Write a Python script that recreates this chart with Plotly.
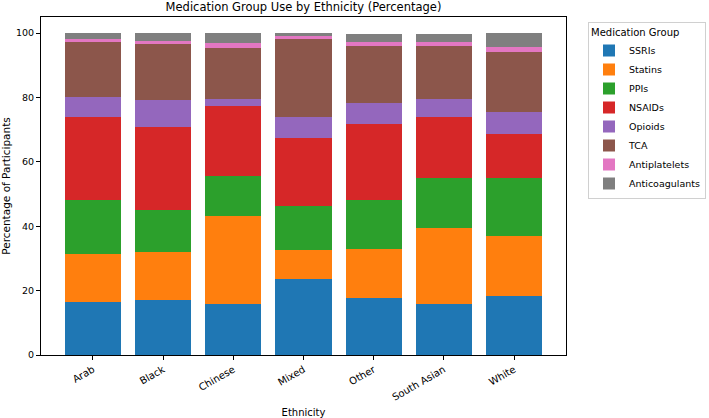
import plotly.graph_objects as go

ethnicities = ["Arab", "Black", "Chinese", "Mixed", "Other", "South Asian", "White"]
groups = ["SSRIs", "Statins", "PPIs", "NSAIDs", "Opioids", "TCA", "Antiplatelets", "Anticoagulants"]
colors = ["#1f77b4", "#ff7f0e", "#2ca02c", "#d62728", "#9467bd", "#8c564b", "#e377c2", "#7f7f7f"]

ssris = [16.5, 17.1, 15.7, 23.7, 17.8, 16.0, 18.3]
statins = [14.9, 14.8, 27.6, 8.8, 15.0, 23.4, 18.8]
ppis = [16.9, 13.1, 12.2, 13.7, 15.5, 15.7, 18.0]
nsaids = [25.7, 25.8, 22.0, 21.2, 23.4, 18.9, 13.6]
opioids = [6.3, 8.3, 2.1, 6.6, 6.5, 5.4, 6.8]
tca = [16.8, 17.5, 15.9, 24.1, 17.9, 16.5, 18.7]
antiplatelets = [1.2, 1.1, 1.4, 0.9, 1.0, 1.4, 1.5]
anticoagulants = [1.7, 2.3, 3.1, 1.0, 2.7, 2.5, 4.3]

series = [ssris, statins, ppis, nsaids, opioids, tca, antiplatelets, anticoagulants]

font = "DejaVu Sans"
fig = go.Figure()
for name, vals, c in zip(groups, series, colors):
    fig.add_trace(go.Bar(x=ethnicities, y=vals, name=name, marker=dict(color=c, line=dict(width=0))))

fig.update_layout(
    width=709, height=418,
    barmode="stack", bargap=0.2,
    plot_bgcolor="white", paper_bgcolor="white",
    margin=dict(l=41, r=143, t=17, b=63),
    font=dict(family=font, size=10, color="black"),
    title=dict(text="Medication Group Use by Ethnicity (Percentage)", x=(41 + 566) / 2 / 709, xanchor="center",
               y=1 - 7 / 418, yanchor="middle", font=dict(size=11.5, family=font)),
    legend=dict(title=dict(text="Medication Group", side="top", font=dict(size=10)), traceorder="normal",
                xref="container", yref="container",
                x=588 / 709, y=1 - 22 / 418, xanchor="left", yanchor="top",
                bordercolor="#d0d0d0", borderwidth=1, font=dict(size=9.5, family=font),
                itemwidth=30, tracegroupgap=0),
    xaxis=dict(title=dict(text="Ethnicity", standoff=7, font=dict(size=10)), tickangle=-30,
               range=[-0.74, 6.74], showline=True, linecolor="black", linewidth=1, mirror=True,
               ticks="outside", ticklen=4, tickcolor="black", showgrid=False, automargin=False,
               tickfont=dict(size=10)),
    yaxis=dict(title=dict(text="Percentage of Participants", standoff=6, font=dict(size=10.5)),
               range=[0, 105], tickvals=[0, 20, 40, 60, 80, 100],
               showline=True, linecolor="black", linewidth=1, mirror=True, automargin=False,
               ticks="outside", ticklen=4, tickcolor="black", showgrid=False, zeroline=False,
               tickfont=dict(size=9.5)),
)

fig.write_html("out.html")
